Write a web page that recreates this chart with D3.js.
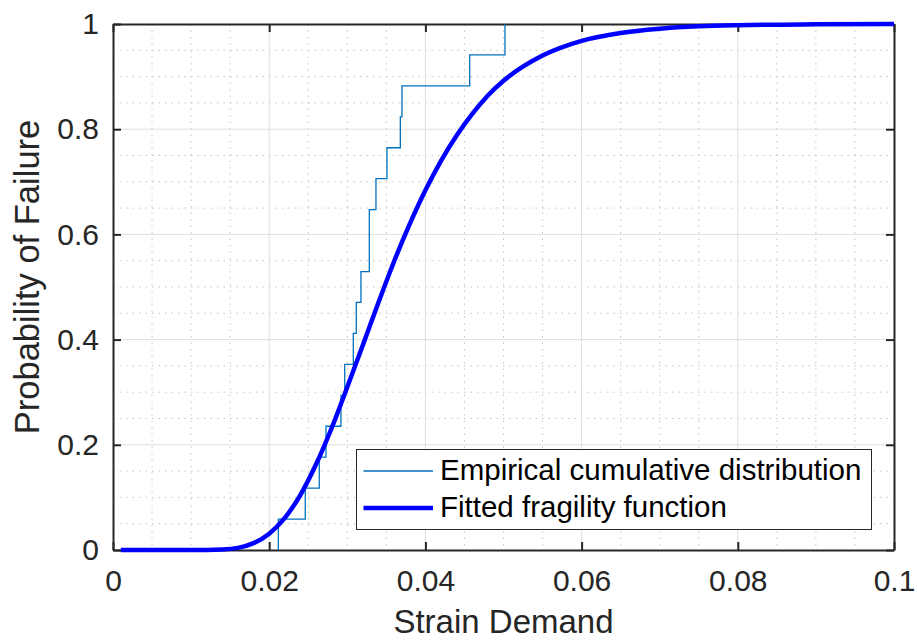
<!DOCTYPE html>
<html>
<head>
<meta charset="utf-8">
<script src="https://cdn.jsdelivr.net/npm/d3@7/dist/d3.min.js"></script>
<style>
  html, body { margin: 0; padding: 0; background: #fff; }
  svg { display: block; font-family: "Liberation Sans", Arial, Helvetica, sans-serif; }
</style>
</head>
<body>
<svg id="chart" width="917" height="643"></svg>
<script>
// ---- data ----
const ecdfX = [0.02117, 0.02462, 0.02641, 0.02727, 0.02919, 0.02967, 0.03077, 0.03115,
               0.03175, 0.03282, 0.03367, 0.03508, 0.03679, 0.03700, 0.04567, 0.05019];
const ecdfP = [0.0588, 0.1176, 0.1765, 0.2353, 0.2941, 0.3529, 0.4118, 0.4706,
               0.5294, 0.6471, 0.7059, 0.7647, 0.8235, 0.8824, 0.9412, 1.0];

const fitX = [0.001, 0.010, 0.014, 0.016, 0.018, 0.020, 0.022, 0.024, 0.026, 0.028,
              0.030, 0.032, 0.034, 0.036, 0.038, 0.040, 0.042, 0.044, 0.046, 0.048,
              0.050, 0.055, 0.060, 0.065, 0.070, 0.075, 0.080, 0.090, 0.100];
const fitP = [0.0, 0.0, 0.001, 0.004, 0.013, 0.031, 0.061, 0.105, 0.163, 0.232,
              0.310, 0.390, 0.471, 0.549, 0.620, 0.684, 0.740, 0.788, 0.829, 0.864,
              0.892, 0.940, 0.968, 0.983, 0.991, 0.9955, 0.9977, 0.9994, 1.0];

const xTicks = [0, 0.02, 0.04, 0.06, 0.08, 0.1];
const xTickLabels = ["0", "0.02", "0.04", "0.06", "0.08", "0.1"];
const yTicks = [0, 0.2, 0.4, 0.6, 0.8, 1];
const yTickLabels = ["0", "0.2", "0.4", "0.6", "0.8", "1"];
const xMinor = [0.005, 0.01, 0.015, 0.025, 0.03, 0.035, 0.045, 0.05, 0.055, 0.065, 0.07, 0.075, 0.085, 0.09, 0.095];
const yMinor = [0.05, 0.1, 0.15, 0.25, 0.3, 0.35, 0.45, 0.5, 0.55, 0.65, 0.7, 0.75, 0.85, 0.9, 0.95];

const legendLabels = ["Empirical cumulative distribution", "Fitted fragility function"];
const xLabel = "Strain Demand";
const yLabel = "Probability of Failure";

// ---- layout ----
const L = 113, R = 894, T = 24, B = 550;
const svg = d3.select("#chart");
const x = d3.scaleLinear().domain([0, 0.1]).range([L, R]);
const y = d3.scaleLinear().domain([0, 1]).range([B, T]);
const axisColor = "#262626";

// minor grid
const g = svg.append("g");
g.selectAll("line.vmin").data(xMinor).enter().append("line")
  .attr("x1", d => x(d)).attr("x2", d => x(d)).attr("y1", T).attr("y2", B)
  .attr("stroke", "#c4c4c4").attr("stroke-width", 1).attr("stroke-dasharray", "1.5,5");
g.selectAll("line.hmin").data(yMinor).enter().append("line")
  .attr("y1", d => y(d)).attr("y2", d => y(d)).attr("x1", L).attr("x2", R)
  .attr("stroke", "#c4c4c4").attr("stroke-width", 1).attr("stroke-dasharray", "1.5,5");
// major grid
g.selectAll("line.vmaj").data(xTicks.slice(1, -1)).enter().append("line")
  .attr("x1", d => x(d)).attr("x2", d => x(d)).attr("y1", T).attr("y2", B)
  .attr("stroke", "#dedede").attr("stroke-width", 1);
g.selectAll("line.hmaj").data(yTicks.slice(1, -1)).enter().append("line")
  .attr("y1", d => y(d)).attr("y2", d => y(d)).attr("x1", L).attr("x2", R)
  .attr("stroke", "#dedede").attr("stroke-width", 1);

// axes
function styleAxis(sel) {
  sel.selectAll("path.domain").attr("stroke", axisColor).attr("stroke-width", 2);
  sel.selectAll(".tick line").attr("stroke", axisColor).attr("stroke-width", 2);
  sel.selectAll(".tick text").attr("fill", axisColor).style("font-size", "30px")
     .style("font-family", '"Liberation Sans", Arial, sans-serif');
}
const xAxis = svg.append("g").attr("transform", `translate(0,${B})`)
  .call(d3.axisBottom(x).tickValues(xTicks).tickFormat((d, i) => xTickLabels[i])
        .tickSizeInner(-8).tickSizeOuter(0).tickPadding(20));
styleAxis(xAxis);
const yAxis = svg.append("g").attr("transform", `translate(${L},0)`)
  .call(d3.axisLeft(y).tickValues(yTicks).tickFormat((d, i) => yTickLabels[i])
        .tickSizeInner(-8).tickSizeOuter(0).tickPadding(14));
styleAxis(yAxis);
const xAxisTop = svg.append("g").attr("transform", `translate(0,${T})`)
  .call(d3.axisTop(x).tickValues(xTicks).tickFormat("").tickSizeInner(-8).tickSizeOuter(0));
styleAxis(xAxisTop);
const yAxisRight = svg.append("g").attr("transform", `translate(${R},0)`)
  .call(d3.axisRight(y).tickValues(yTicks).tickFormat("").tickSizeInner(-8).tickSizeOuter(0));
styleAxis(yAxisRight);

// axis labels
svg.append("text").attr("x", (L + R) / 2).attr("y", 633).attr("text-anchor", "middle")
  .attr("fill", axisColor).style("font-size", "33px").text(xLabel);
svg.append("text").attr("transform", `translate(39,${(T + B) / 2 - 10}) rotate(-90)`)
  .attr("text-anchor", "middle").attr("fill", axisColor).style("font-size", "34.5px").text(yLabel);

// empirical CDF stairs
const stairs = [];
ecdfX.forEach((v, i) => {
  stairs.push([v, i === 0 ? 0 : ecdfP[i - 1]]);
  stairs.push([v, ecdfP[i]]);
  if (i < ecdfX.length - 1) stairs.push([ecdfX[i + 1], ecdfP[i]]);
});
svg.append("path").datum(stairs)
  .attr("d", d3.line().x(d => x(d[0])).y(d => y(d[1])))
  .attr("fill", "none").attr("stroke", "#0072BD").attr("stroke-width", 1.3);

// fitted fragility
svg.append("path").datum(fitX.map((v, i) => [v, fitP[i]]))
  .attr("d", d3.line().x(d => x(d[0])).y(d => y(d[1])).curve(d3.curveMonotoneX))
  .attr("fill", "none").attr("stroke", "#0000FF").attr("stroke-width", 4.5)
  .attr("stroke-linejoin", "round");

// legend
const lg = svg.append("g");
lg.append("rect").attr("x", 356.5).attr("y", 449.5).attr("width", 515).attr("height", 80)
  .attr("fill", "#fff").attr("stroke", axisColor).attr("stroke-width", 1);
const rows = [{ y: 471, w: 1.3, c: "#0072BD" }, { y: 508, w: 4.5, c: "#0000FF" }];
rows.forEach((r, i) => {
  lg.append("line").attr("x1", 363.5).attr("x2", 433).attr("y1", r.y).attr("y2", r.y)
    .attr("stroke", r.c).attr("stroke-width", r.w);
  lg.append("text").attr("x", 440).attr("y", r.y + 8.8).attr("fill", "#000")
    .style("font-size", "29.5px").text(legendLabels[i]);
});
</script>
</body>
</html>
